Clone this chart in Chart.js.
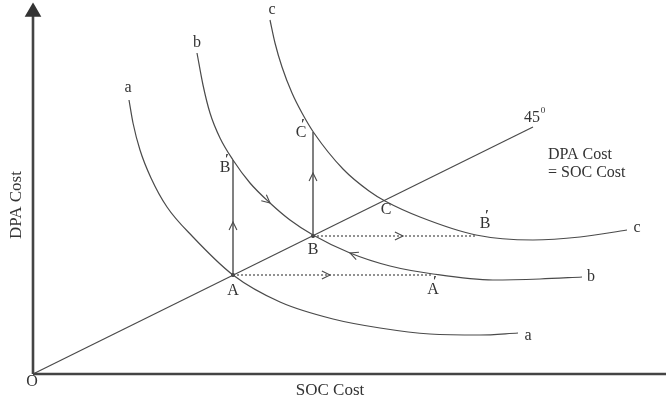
<!DOCTYPE html>
<html>
<head>
<meta charset="utf-8">
<script src="https://cdn.jsdelivr.net/npm/chart.js@4.4.1/dist/chart.umd.min.js"></script>
<style>
  html, body { margin: 0; padding: 0; background: #fff; }
  #wrap { width: 666px; height: 404px; }
</style>
</head>
<body>
<div id="wrap"><canvas id="costChart" width="666" height="404"></canvas></div>
<script>
// === Data (cost units, origin O at 0,0) ===
const curveA = [[96,274],[100,251],[107,224],[118,196],[134,167],[160,137],[200,99],[247,72],[300,55],[347,46],[397,40],[447,39],[485,41]];
const curveB = [[164,321],[170,289],[177,261],[187,236],[200,214],[217,191],[237,171],[257,154],[280,139],[317,121],[357,108],[400,100],[460,94],[507,95],[549,97]];
const curveC = [[237,354],[242,331],[249,307],[259,281],[269,261],[281,241],[310,205],[336,183],[352,173],[387,157],[443,139],[500,134],[547,137],[594,144]];
const diagonal = [[0,0],[500,247]];
const xAxisLine = [[0,0],[633,0]];
const yAxisLine = [[0,0],[0,362]];
const riseA = [[200,99],[200,214]];
const riseB = [[280,138],[280,242]];
const shiftA = [[200,99],[400,99]];
const shiftB = [[280,138],[443,138]];
const eqPoints = [[200,99],[280,138]];

// arrowheads: position + direction in data units
const arrows = [
  [200,152, 0,1],
  [280,201, 0,1],
  [297,99, 1,0],
  [370,138, 1,0],
  [237,171, 20,-17],
  [317,121, -40,15]
];

// text labels: [text, x, y, prime]
const labels = [
  ['a',95,286,false], ['a',495,38,false],
  ['b',164,331,false], ['b',558,97,false],
  ['c',239,364,false], ['c',604,146,false],
  ['A',200,83,false], ['B',280,124,false], ['C',353,164,false],
  ['A',400,84,true], ['B',192,206,true], ['C',268,241,true], ['B',452,150,true],
  ['O',-1,-8,false]
];

const toPts = arr => arr.map(p => ({ x: p[0], y: p[1] }));
const ink = '#4a4a4a';

function lineSet(arr, opts) {
  return Object.assign({
    data: toPts(arr),
    showLine: true,
    borderColor: ink,
    borderWidth: 1.2,
    pointRadius: 0,
    fill: false,
    clip: false
  }, opts || {});
}

// === Text + arrowheads drawn through the scales ===
const annotate = {
  id: 'annotate',
  afterDatasetsDraw(chart) {
    const { ctx, scales: { x, y } } = chart;
    ctx.save();
    ctx.strokeStyle = ink;
    ctx.lineWidth = 1.1;
    arrows.forEach(a => {
      const px = x.getPixelForValue(a[0]);
      const py = y.getPixelForValue(a[1]);
      const qx = x.getPixelForValue(a[0] + a[2]);
      const qy = y.getPixelForValue(a[1] + a[3]);
      const ang = Math.atan2(qy - py, qx - px);
      const len = 9;
      ctx.beginPath();
      ctx.moveTo(px - len * Math.cos(ang - 0.45), py - len * Math.sin(ang - 0.45));
      ctx.lineTo(px, py);
      ctx.lineTo(px - len * Math.cos(ang + 0.45), py - len * Math.sin(ang + 0.45));
      ctx.stroke();
    });

    ctx.fillStyle = '#333';
    ctx.textAlign = 'center';
    ctx.textBaseline = 'middle';
    labels.forEach(l => {
      const px = x.getPixelForValue(l[1]);
      const py = y.getPixelForValue(l[2]);
      ctx.font = '16px "Liberation Serif", serif';
      ctx.fillText(l[0], px, py);
      if (l[3]) {
        ctx.font = 'bold 14px "Liberation Serif", serif';
        ctx.fillText('\u2032', px + 2, py - 8);
      }
    });

    ctx.font = '16px "Liberation Serif", serif';
    ctx.fillText('45', x.getPixelForValue(499), y.getPixelForValue(256));
    ctx.font = '9px "Liberation Serif", serif';
    ctx.fillText('0', x.getPixelForValue(510), y.getPixelForValue(263));

    ctx.font = '16px "Liberation Serif", serif';
    ctx.textAlign = 'left';
    ctx.fillText('DPA Cost', x.getPixelForValue(515), y.getPixelForValue(219));
    ctx.fillText('= SOC Cost', x.getPixelForValue(515), y.getPixelForValue(201));

    ctx.font = '17px "Liberation Serif", serif';
    ctx.textAlign = 'center';
    ctx.fillText('SOC Cost', x.getPixelForValue(297), y.getPixelForValue(-17));
    ctx.translate(x.getPixelForValue(-16), y.getPixelForValue(169));
    ctx.rotate(-Math.PI / 2);
    ctx.fillText('DPA Cost', 0, 0);
    ctx.restore();
  }
};

const costChart = document.getElementById('costChart');
new Chart(costChart, {
  type: 'scatter',
  data: {
    datasets: [
      lineSet(xAxisLine, { borderWidth: 2.6, borderColor: '#444' }),
      lineSet(yAxisLine, {
        borderWidth: 2.6, borderColor: '#444',
        pointStyle: 'triangle', pointRadius: [0, 7],
        pointBackgroundColor: '#333', pointBorderColor: '#333'
      }),
      lineSet(diagonal),
      lineSet(curveA, { cubicInterpolationMode: 'monotone' }),
      lineSet(curveB, { cubicInterpolationMode: 'monotone' }),
      lineSet(curveC, { cubicInterpolationMode: 'monotone' }),
      lineSet(riseA, { borderWidth: 1.4 }),
      lineSet(riseB, { borderWidth: 1.4 }),
      lineSet(shiftA, { borderDash: [2, 2] }),
      lineSet(shiftB, { borderDash: [2, 2] }),
      lineSet(eqPoints, { showLine: false, pointRadius: 2, pointBackgroundColor: '#333', pointBorderWidth: 0 })
    ]
  },
  options: {
    responsive: false,
    animation: false,
    devicePixelRatio: 1,
    layout: { autoPadding: false, padding: { left: 33, top: 12, right: 0, bottom: 30 } },
    plugins: { legend: { display: false }, tooltip: { enabled: false } },
    scales: {
      x: { type: 'linear', min: 0, max: 633, display: false },
      y: { type: 'linear', min: 0, max: 362, display: false }
    }
  },
  plugins: [annotate]
});
</script>
</body>
</html>
